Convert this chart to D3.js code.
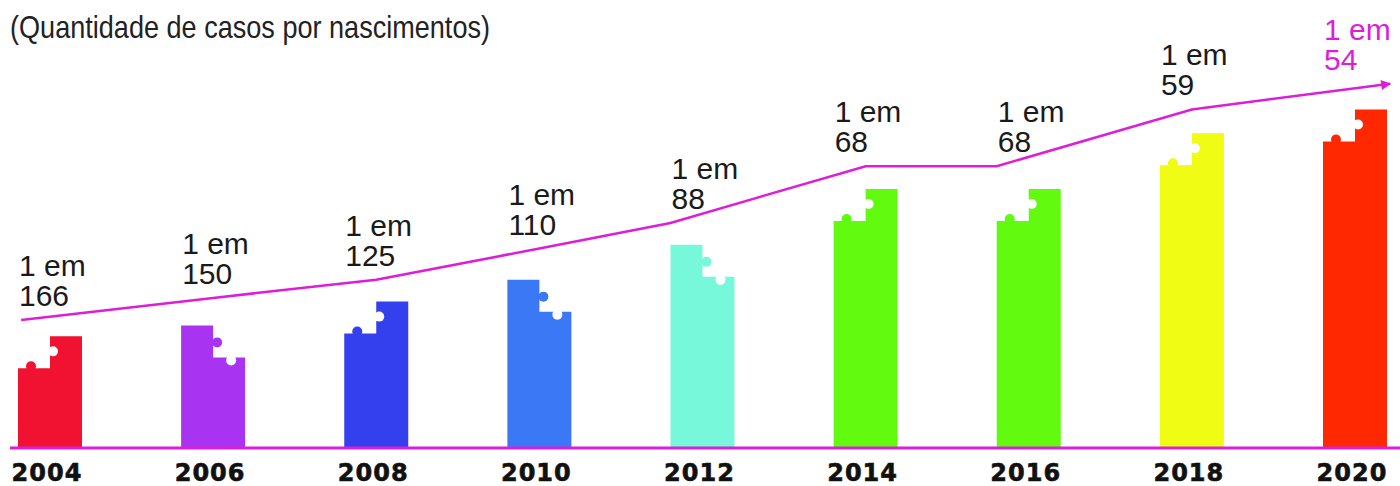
<!DOCTYPE html>
<html>
<head>
<meta charset="utf-8">
<script src="https://cdn.jsdelivr.net/npm/d3@7"></script>
<style>
  html, body { margin: 0; padding: 0; background: #fff; }
  svg { display: block; }
</style>
</head>
<body>
<div id="chart"></div>
<script>
// data
const years = ["2004", "2006", "2008", "2010", "2012", "2014", "2016", "2018", "2020"];
// "1 em N" : one case in N births
const oneIn = [166, 150, 125, 110, 88, 68, 68, 59, 54];
// bar height, estimated cases per 1000 births
const perThousand = [6.1, 6.7, 8.0, 9.2, 11.1, 14.15, 14.15, 17.2, 18.5];
// the magenta trend line drawn above the bars (same units)
const trend = [7.0, 8.2, 9.2, 10.9, 12.3, 15.4, 15.4, 18.5, 19.9];

const barColors = ["#f01230", "#a834f2", "#3440ee", "#3a78f6", "#78f8da", "#62fb10", "#62fb10", "#f0fc14", "#ff2800"];
const stepUp = [true, false, true, false, false, true, true, true, true];
// where the trend line bends, relative to the bar (fraction of bar width from centre)
const bendAt = [-0.45, 0, 0, 0, -0.5, 0, -0.5, 0, 0.55];

const width = 1400, height = 486;
const baseY = 448;
const barW = 64, step = 32, r = 5;
const magenta = "#dc1ed8";
const sans = "'Liberation Sans', Arial, sans-serif";

const svg = d3.select("#chart")
  .append("svg")
  .attr("width", width)
  .attr("height", height);

const x = d3.scalePoint()
  .domain(years)
  .range([50, 1355]);

const y = d3.scaleLinear()
  .domain([0, 20])
  .range([baseY, 82]);

// title
svg.append("text")
  .attr("x", 10)
  .attr("y", 38)
  .attr("textLength", 480)
  .attr("lengthAdjust", "spacingAndGlyphs")
  .style("font-family", sans)
  .style("font-size", "32px")
  .attr("fill", "#222")
  .text("(Quantidade de casos por nascimentos)");

// bars as two-step puzzle pieces
const bars = svg.append("g")
  .selectAll("g")
  .data(years.map((yr, i) => ({ yr, v: perThousand[i], up: stepUp[i], color: barColors[i] })))
  .enter()
  .append("g");

bars.append("path")
  .attr("fill", d => d.color)
  .attr("d", d => {
    const cx = x(d.yr), x0 = cx - barW / 2, x1 = cx + barW / 2;
    const hi = y(d.v), lo = hi + step;
    const p = d3.path();
    p.moveTo(x0, baseY);
    if (d.up) {
      p.lineTo(x0, lo); p.lineTo(cx, lo); p.lineTo(cx, hi); p.lineTo(x1, hi);
    } else {
      p.lineTo(x0, hi); p.lineTo(cx, hi); p.lineTo(cx, lo); p.lineTo(x1, lo);
    }
    p.lineTo(x1, baseY);
    p.closePath();
    return p.toString();
  });

// knob
bars.append("circle")
  .attr("r", r)
  .attr("fill", d => d.color)
  .attr("cx", d => d.up ? x(d.yr) - 19 : x(d.yr) + 4)
  .attr("cy", d => d.up ? y(d.v) + step - 2 : y(d.v) + 17);

// hole
bars.append("circle")
  .attr("r", r)
  .attr("fill", "#fff")
  .attr("cx", d => d.up ? x(d.yr) + 3 : x(d.yr) + 18)
  .attr("cy", d => d.up ? y(d.v) + 15 : y(d.v) + step + 3);

// baseline
svg.append("line")
  .attr("x1", 10)
  .attr("x2", width)
  .attr("y1", baseY)
  .attr("y2", baseY)
  .attr("stroke", magenta)
  .attr("stroke-width", 3);

// trend line with arrow
svg.append("defs")
  .append("marker")
  .attr("id", "arrow")
  .attr("viewBox", "0 0 10 10")
  .attr("refX", 9)
  .attr("refY", 5)
  .attr("markerWidth", 6)
  .attr("markerHeight", 4)
  .attr("markerUnits", "strokeWidth")
  .attr("orient", "auto")
  .append("path")
  .attr("d", "M0,0 L10,5 L0,10 Z")
  .attr("fill", magenta);

const trendX = (yr, i) => x(yr) + bendAt[i] * barW;

const line = d3.line()
  .x((d, i) => trendX(d, i))
  .y((d, i) => y(trend[i]));

svg.append("path")
  .datum(years)
  .attr("d", line)
  .attr("fill", "none")
  .attr("stroke", magenta)
  .attr("stroke-width", 2.5)
  .attr("marker-end", "url(#arrow)");

// "1 em N" labels
const labelX = d => x(d) - barW / 2 + 1;

const labels = svg.append("g")
  .selectAll("text")
  .data(years)
  .enter()
  .append("text")
  .attr("x", labelX)
  .attr("y", (d, i) => y(trend[i]) - 14)
  .style("font-family", sans)
  .style("font-size", "30px")
  .attr("fill", (d, i) => i === years.length - 1 ? magenta : "#1a1a1a");

labels.append("tspan")
  .attr("x", labelX)
  .attr("dy", -30)
  .text("1 em");

labels.append("tspan")
  .attr("x", labelX)
  .attr("dy", 30)
  .text((d, i) => oneIn[i]);

// year axis labels
svg.append("g")
  .selectAll("text")
  .data(years)
  .enter()
  .append("text")
  .attr("x", d => x(d) - 3)
  .attr("y", 481)
  .attr("text-anchor", "middle")
  .style("font-family", "'DejaVu Sans', sans-serif")
  .style("font-weight", "bold")
  .style("font-size", "24px")
  .style("letter-spacing", "1px")
  .attr("fill", "#111")
  .attr("stroke", "#111")
  .attr("stroke-width", 0.6)
  .text(d => d);
</script>
</body>
</html>
